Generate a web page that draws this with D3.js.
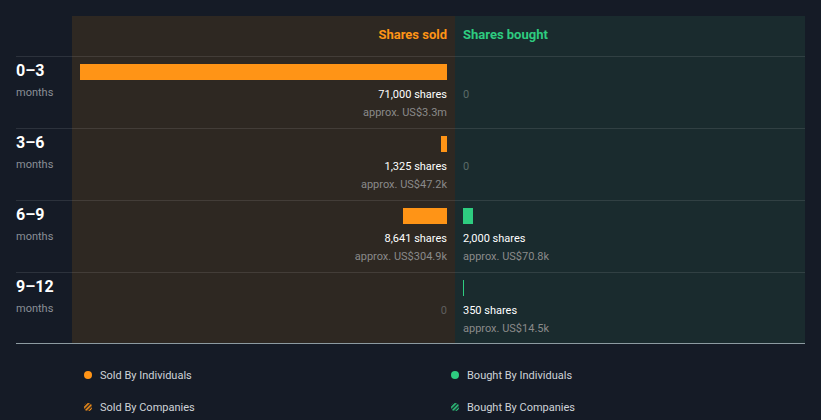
<!DOCTYPE html>
<html><head><meta charset="utf-8">
<script src="https://cdn.jsdelivr.net/npm/d3@7"></script>
<style>html,body{margin:0;padding:0;background:#151b26;}svg{display:block;font-family:Roboto,"Noto Sans",sans-serif;}</style>
</head><body><svg id="c" width="821" height="420"></svg>
<script>
const periods = ["0–3", "3–6", "6–9", "9–12"];
const periodUnit = "months";
const soldShares = [71000, 1325, 8641, 0];
const soldValue = ["US$3.3m", "US$47.2k", "US$304.9k", null];
const boughtShares = [0, 0, 2000, 350];
const boughtValue = [null, null, "US$70.8k", "US$14.5k"];
const legendItems = [
  {label: "Sold By Individuals", color: "#ff9416", striped: false},
  {label: "Bought By Individuals", color: "#2ecc80", striped: false},
  {label: "Sold By Companies", color: "#ff9416", striped: true},
  {label: "Bought By Companies", color: "#2ecc80", striped: true}
];

(function() {
const svg = d3.select("#c");
const leftX = 16, rightX = 805, topY = 16, headerH = 41, rowH = 72;
const mid = 455, soldX0 = 72;
const pad = 8;
const fmt = d3.format(",");
const orange = "#ff9416", green = "#2ecc80";

const defs = svg.append("defs");
[["so", orange], ["bo", green]].forEach(([id, c]) => {
  const p = defs.append("pattern").attr("id", id).attr("patternUnits", "userSpaceOnUse")
    .attr("width", 3).attr("height", 3).attr("patternTransform", "rotate(45)");
  p.append("rect").attr("width", 3).attr("height", 3).attr("fill", "#151b26");
  p.append("rect").attr("width", 1.6).attr("height", 3).attr("fill", c);
});

const rowsEnd = topY + headerH + rowH * periods.length;
const bottomY = rowsEnd - 2;
svg.append("rect").attr("x", soldX0).attr("y", topY).attr("width", mid - soldX0).attr("height", bottomY - topY).attr("fill", "#2e2822");
svg.append("rect").attr("x", mid).attr("y", topY).attr("width", rightX - mid).attr("height", bottomY - topY).attr("fill", "#1a2b2e");

const maxV = d3.max(soldShares.concat(boughtShares));
const xs = d3.scaleLinear().domain([0, maxV]).range([0, (mid - pad) - (soldX0 + pad)]);
const y = d3.scaleBand().domain(periods).range([topY + headerH, rowsEnd]);

svg.append("text").attr("x", mid - pad).attr("y", 39).attr("text-anchor", "end")
  .attr("fill", orange).attr("font-size", 13).attr("font-weight", "bold").text("Shares sold");
svg.append("text").attr("x", mid + pad).attr("y", 39).attr("text-anchor", "start")
  .attr("fill", green).attr("font-size", 13).attr("font-weight", "bold").text("Shares bought");

const seps = [topY + headerH - 0.5].concat(periods.slice(1).map(p => y(p) - 0.5));
svg.selectAll("line.sep").data(seps).join("line").attr("class", "sep")
  .attr("x1", leftX).attr("x2", rightX).attr("y1", d => d).attr("y2", d => d)
  .attr("stroke", "rgba(255,255,255,0.1)").attr("stroke-width", 1);
svg.append("line").attr("x1", leftX).attr("x2", rightX).attr("y1", bottomY + 0.5).attr("y2", bottomY + 0.5)
  .attr("stroke", "#8d9ba1").attr("stroke-width", 1);

const rows = svg.selectAll("g.row").data(periods).join("g").attr("class", "row")
  .attr("transform", d => `translate(0,${y(d)})`);
rows.append("text").attr("x", leftX).attr("y", 19).attr("fill", "#ffffff").attr("font-size", 16)
  .attr("font-weight", "bold").text(d => d);
rows.append("text").attr("x", leftX).attr("y", 39).attr("fill", "#8a8f96").attr("font-size", 11).text(periodUnit);

rows.each(function(p, i) {
  const g = d3.select(this);
  const sv = soldShares[i];
  if (sv > 0) {
    const w = Math.max(1, Math.floor(xs(sv)));
    g.append("rect").attr("x", mid - pad - w).attr("y", 7).attr("width", w).attr("height", 16).attr("fill", orange);
    g.append("text").attr("x", mid - pad).attr("y", 41).attr("text-anchor", "end").attr("fill", "#ffffff")
      .attr("font-size", 11).text(fmt(sv) + " shares");
    g.append("text").attr("x", mid - pad).attr("y", 59).attr("text-anchor", "end").attr("fill", "#8a8a8a")
      .attr("font-size", 11).text("approx. " + soldValue[i]);
  } else {
    g.append("text").attr("x", mid - pad).attr("y", 41).attr("text-anchor", "end").attr("fill", "#5f5f5f")
      .attr("font-size", 11).text("0");
  }
  const bv = boughtShares[i];
  if (bv > 0) {
    const w = Math.max(1, Math.floor(xs(bv)));
    g.append("rect").attr("x", mid + pad).attr("y", 7).attr("width", w).attr("height", 16).attr("fill", green);
    g.append("text").attr("x", mid + pad).attr("y", 41).attr("fill", "#ffffff")
      .attr("font-size", 11).text(fmt(bv) + " shares");
    g.append("text").attr("x", mid + pad).attr("y", 59).attr("fill", "#8a8a8a")
      .attr("font-size", 11).text("approx. " + boughtValue[i]);
  } else {
    g.append("text").attr("x", mid + pad).attr("y", 41).attr("fill", "#5a6a68")
      .attr("font-size", 11).text("0");
  }
});

const lg = svg.selectAll("g.lg").data(legendItems).join("g").attr("class", "lg")
  .attr("transform", (d, i) => `translate(${i % 2 === 0 ? 88 : 455},${i < 2 ? 375 : 407})`);
lg.append("circle").attr("r", 4).attr("fill", d => d.striped ? (d.color === orange ? "url(#so)" : "url(#bo)") : d.color);
lg.append("text").attr("x", 12).attr("y", 4).attr("fill", "#cfd3d8").attr("font-size", 11).text(d => d.label);
})();
</script></body></html>
